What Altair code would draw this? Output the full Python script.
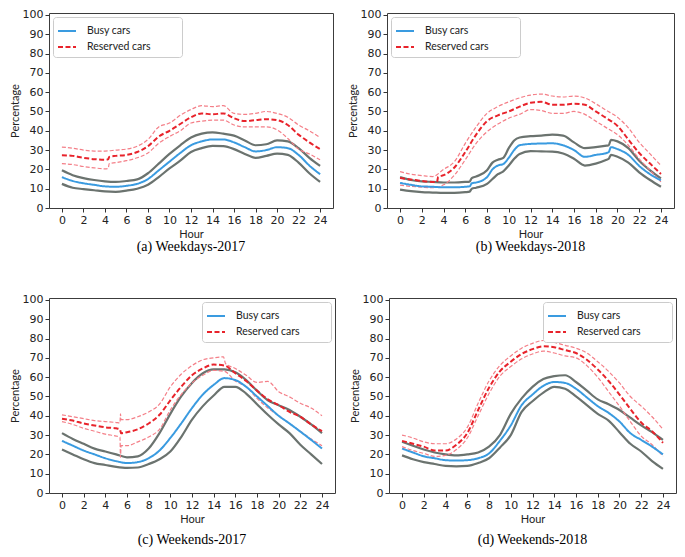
import altair as alt
import pandas as pd

H = list(range(25))

# ---------------- (a) Weekdays-2017 ----------------
A_BUSY_MEAN = [16, 14, 12.8, 12, 11.2, 11, 11.5, 12.5, 15, 19.5, 24, 28.5, 32.5, 34.5, 35.5, 35.5, 34, 31.5, 29.3, 30, 31.5, 31, 27.5, 22, 17.5]
A_BUSY_UP = [19.5, 17, 15.5, 14.5, 13.8, 13.5, 14, 14.8, 18, 23, 28, 32.5, 36.5, 38.5, 39.2, 38.5, 37.5, 35, 32.5, 33, 35, 34.5, 31, 26, 21.8]
A_BUSY_LO = [12.5, 10.5, 9.8, 9.2, 8.6, 8.4, 9, 10, 12, 16, 20.5, 24.5, 29, 31, 32.2, 32, 30.5, 28, 26, 27, 28.2, 27.5, 23.5, 18, 13.5]
A_RES_H = [0, 1, 2, 3, 4, 4.3, 4.4, 5] + list(range(6, 25))
A_RES_MEAN = [27.3, 27, 26, 25.3, 25, 25.2, 26.5, 27, 27.5, 29, 32, 37, 40, 43.5, 47, 49, 48.5, 49, 46.5, 45, 45.5, 46, 45.5, 43, 38, 34, 30.5]
A_RES_UP = [31.5, 31, 30, 29.5, 29.5, 30, 30.5, 32, 35.5, 42, 44, 48, 51, 53, 52.5, 53, 49, 48.5, 49, 50, 49, 47, 43, 40, 36.5]
A_RES_LO = [23, 22.5, 21.5, 20.8, 20.3, 20.5, 23, 23.5, 24.5, 26, 28.5, 33.5, 37, 40, 44, 45, 45.5, 45.5, 43, 42, 42, 42, 40.5, 36, 30.5, 28, 25]

# ---------------- (b) Weekdays-2018 ----------------
B_BUSY_H = [0, 1, 2, 3, 4, 5, 6, 6.4, 6.6, 7, 8, 8.5, 9, 9.5, 10, 10.5, 11, 12, 13, 14, 15, 16, 17, 18, 19, 19.2, 19.4, 20, 21, 22, 23, 24]
B_BUSY_MEAN = [13, 12, 11.2, 11, 10.7, 10.7, 11, 11.2, 12.8, 13.2, 16, 20, 22, 22.8, 26, 30, 32.5, 33.2, 33.4, 33.5, 32.5, 30, 26.5, 27.5, 28.5, 29, 31.5, 30.5, 27.5, 21.8, 17.5, 14.3]
B_BUSY_UP = [16, 14.5, 13.8, 13.5, 13.2, 13.2, 13.5, 13.7, 15.5, 16.3, 19.5, 23.5, 25, 26, 31, 35, 36.5, 37.2, 37.5, 38, 37.5, 34, 31, 31.5, 32.3, 32.5, 35.3, 34.5, 31, 24.5, 19.5, 15.3]
B_BUSY_LO = [9.5, 8.7, 8.2, 8, 7.8, 7.8, 8.2, 8.5, 10, 10.5, 12.5, 15, 17.5, 19, 22, 25.5, 28, 29.5, 29.3, 29.2, 28.2, 25.5, 22, 23, 25, 25.5, 27.5, 26.5, 23.5, 18.5, 14.5, 11]
B_RES_H = [0, 1, 2, 3, 3.4, 3.5, 4, 5] + list(range(6, 25))
B_RES_MEAN = [15.5, 14.8, 14, 13.5, 13.5, 16, 17, 21, 29, 38, 45, 48, 50, 52.5, 54.5, 55, 53.5, 53.5, 54, 53.5, 50, 46.5, 42.5, 35.5, 28.5, 23, 17.6]
B_RES_UP = [18.8, 17.5, 16.8, 16.3, 20, 24, 33.5, 42, 49, 52.5, 55, 57, 58.5, 59, 58, 57.5, 58, 57, 54, 50.5, 47, 41.5, 34, 28, 22]
B_RES_LO = [11.8, 11.2, 10.8, 10.5, 12, 17, 25, 33.5, 39.5, 43.5, 46.5, 48.5, 51, 50.5, 49, 49, 50, 48.5, 45, 41.5, 38, 32.5, 25.5, 19.5, 13.5]

# ---------------- (c) Weekends-2017 ----------------
C_BUSY_MEAN = [27, 24.5, 22, 20, 18, 16.5, 15.5, 16, 18, 22, 28.5, 36, 44, 51, 56, 59.5, 58.5, 55, 50, 45, 40, 36, 31.8, 27.5, 23]
C_BUSY_UP = [31, 28, 25.5, 23, 21.5, 20, 18.5, 19, 23, 31, 41, 50, 57, 62, 64, 64, 62.5, 58.5, 53, 48, 45.5, 43, 39.5, 35.5, 31]
C_BUSY_LO = [22.5, 20, 17.5, 15.5, 14.5, 13.5, 13, 13.2, 15, 17.5, 21.5, 29, 38, 45, 50.5, 55, 55, 51.5, 46, 40.5, 35.5, 31, 25, 20, 15]
C_RES_MEAN_H = [0, 1, 2, 3, 4, 5, 5.35, 5.45] + list(range(6, 25))
C_RES_MEAN = [38.5, 37.5, 36, 35, 34, 33.5, 33, 31, 31.5, 33, 36, 40.5, 48, 55, 61, 64.5, 66.5, 66, 62, 58, 53, 48.5, 45.5, 42, 39.5, 35.5, 32]
C_RES_UP_H = [0, 1, 2, 3, 4, 5, 5.35, 5.4, 5.45] + list(range(6, 15)) + [14.9, 15.1] + list(range(16, 25))
C_RES_UP = [40.5, 39.5, 38.5, 37.5, 37, 36.5, 36.3, 41, 38, 38, 39.5, 42, 46, 55, 61.5, 66, 69, 70, 70.5, 67, 64.5, 61, 57.3, 57.8, 52.5, 49.8, 46.5, 44, 40]
C_RES_LO_H = [0, 1, 2, 3, 4, 5, 5.35, 5.4, 5.45] + list(range(6, 25))
C_RES_LO = [37, 35.5, 33.5, 32, 30.5, 29.5, 29, 18.5, 24.5, 24.5, 26.5, 29, 33, 43, 51, 57, 61, 63.5, 63, 58, 55, 49, 44, 40, 36, 32, 28, 24.5]

# ---------------- (d) Weekends-2018 ----------------
D_BUSY_MEAN = [23, 21, 19, 18, 17, 16.8, 17, 18, 20.5, 27, 35, 45.5, 51, 55.5, 57.5, 57, 54, 49.5, 45, 41.5, 37, 31, 27.5, 24, 20]
D_BUSY_UP = [26.5, 24.5, 22.5, 21, 20, 19.5, 20, 21, 24, 30, 41, 49, 55, 59, 60.5, 61, 57.5, 53, 48.5, 46, 43, 39, 35, 31.5, 27.5]
D_BUSY_LO = [19.5, 17.5, 16, 15, 14, 13.8, 14, 15.5, 18, 23.5, 30, 42, 47.5, 52, 55, 54, 50, 45.5, 41, 37.5, 31.5, 25.5, 21.5, 16.5, 12.5]
D_RES_MEAN = [27, 25.5, 24, 22, 22, 25, 31, 43, 54.5, 63, 68, 72, 74.5, 76, 75.5, 74, 72.5, 69, 64, 58, 51, 43.5, 36.5, 32, 26]
D_RES_UP = [30, 28.5, 26.5, 25.5, 25.5, 28, 34, 46.5, 58, 66, 71, 75, 77.5, 79, 78, 76.5, 75, 72.5, 68, 63, 57, 50, 45, 39.5, 33]
D_RES_LO = [24, 22, 20.5, 19, 19.5, 22.5, 28.5, 40, 51.5, 60.5, 65.5, 69.5, 72, 73.5, 72.5, 71, 70, 66, 60, 52.5, 45, 37, 29.5, 25, 19]

BLUE = "#3a9be0"
GRAY = "#6b736f"
RED = "#e8232b"
LIGHT_RED = "#f47f88"
SERIES = ["Busy cars", "Reserved cars"]
PAD = "\u00a0" * 10 + "\u200b"


def panel_df(lines):
    rows = []
    for name, (hs, vs) in lines.items():
        for h, v in zip(hs, vs):
            rows.append({"hour": h, "value": v, "line": name})
    return pd.DataFrame(rows)


def make_panel(df, caption, orient, cap_offset, w, h):
    x = alt.X("hour:Q", scale=alt.Scale(domain=[-1.2, 25.2], nice=False, zero=False),
              axis=alt.Axis(values=list(range(0, 25, 2)), title="Hour"))
    y = alt.Y("value:Q", scale=alt.Scale(domain=[0, 101], nice=False),
              axis=alt.Axis(values=list(range(0, 101, 10)), title="Percentage"))
    base = alt.Chart(df)
    gray = base.transform_filter(
        alt.FieldOneOfPredicate(field="line", oneOf=["busy_up", "busy_lo"])
    ).mark_line(color=GRAY, strokeWidth=2.2, interpolate="monotone").encode(x=x, y=y, detail="line:N")
    light = base.transform_filter(
        alt.FieldOneOfPredicate(field="line", oneOf=["res_up", "res_lo"])
    ).mark_line(color=LIGHT_RED, strokeWidth=1.2, strokeDash=[4, 2], interpolate="monotone").encode(
        x=x, y=y, detail="line:N")
    leg = alt.Legend(title=None, orient=orient, offset=4, symbolType="stroke", symbolSize=324,
                     symbolStrokeWidth=2, labelFont="Lato", labelFontSize=10.5, labelColor="#222222",
                     labelOffset=10, rowPadding=0, padding=4, strokeColor="#cccccc",
                     fillColor="white", cornerRadius=3,
                     labelExpr="datum.label + '" + PAD + "'")
    means = base.transform_filter(
        alt.FieldOneOfPredicate(field="line", oneOf=["busy_mean", "res_mean"])
    ).transform_calculate(
        series="datum.line == 'busy_mean' ? 'Busy cars' : 'Reserved cars'"
    ).mark_line(strokeWidth=2, interpolate="monotone").encode(
        x=x, y=y,
        color=alt.Color("series:N", scale=alt.Scale(domain=SERIES, range=[BLUE, RED]), legend=leg),
        strokeDash=alt.StrokeDash("series:N", scale=alt.Scale(domain=SERIES, range=[[1, 0], [5, 2.5]]), legend=leg),
    )
    return alt.layer(gray, light, means).properties(
        width=w, height=h,
        title=alt.TitleParams(caption, orient="bottom", anchor="middle", frame="group",
                              font="Liberation Serif", fontSize=14, fontWeight="normal",
                              color="black", offset=cap_offset),
    )


df_a = panel_df({"busy_mean": (H, A_BUSY_MEAN), "busy_up": (H, A_BUSY_UP), "busy_lo": (H, A_BUSY_LO),
                 "res_mean": (A_RES_H, A_RES_MEAN), "res_up": (H, A_RES_UP), "res_lo": (A_RES_H, A_RES_LO)})
df_b = panel_df({"busy_mean": (B_BUSY_H, B_BUSY_MEAN), "busy_up": (B_BUSY_H, B_BUSY_UP), "busy_lo": (B_BUSY_H, B_BUSY_LO),
                 "res_mean": (B_RES_H, B_RES_MEAN), "res_up": (H, B_RES_UP), "res_lo": (H, B_RES_LO)})
df_c = panel_df({"busy_mean": (H, C_BUSY_MEAN), "busy_up": (H, C_BUSY_UP), "busy_lo": (H, C_BUSY_LO),
                 "res_mean": (C_RES_MEAN_H, C_RES_MEAN), "res_up": (C_RES_UP_H, C_RES_UP), "res_lo": (C_RES_LO_H, C_RES_LO)})
df_d = panel_df({"busy_mean": (H, D_BUSY_MEAN), "busy_up": (H, D_BUSY_UP), "busy_lo": (H, D_BUSY_LO),
                 "res_mean": (H, D_RES_MEAN), "res_up": (H, D_RES_UP), "res_lo": (H, D_RES_LO)})

pa = make_panel(df_a, "(a) Weekdays-2017", "top-left", 1, 284, 195)
pb = make_panel(df_b, "(b) Weekdays-2018", "top-left", 1, 287, 195)
pc = make_panel(df_c, "(c) Weekends-2017", "top-right", 9, 286, 195)
pd_ = make_panel(df_d, "(d) Weekends-2018", "top-right", 9, 287, 195)

RES_S = dict(color="independent", strokeDash="independent", x="independent", y="independent")
RES_L = dict(color="independent", strokeDash="independent")

top = alt.hconcat(pa, pb, spacing=12).resolve_scale(**RES_S).resolve_legend(**RES_L)
bottom = alt.hconcat(pc, pd_, spacing=12).resolve_scale(**RES_S).resolve_legend(**RES_L)

chart = alt.vconcat(top, bottom, spacing=38).resolve_scale(**RES_S).resolve_legend(**RES_L).properties(
    padding=0
).configure_view(
    stroke="#3c3c3c", strokeWidth=1
).configure_axis(
    domain=False, grid=False, ticks=True, tickColor="#333333", tickSize=4,
    labelFont="DejaVu Sans", labelFontSize=11, labelColor="#222222", labelPadding=2,
    titleFont="Lato", titleFontSize=11, titleFontWeight="normal", titleColor="#222222",
).configure_axisX(titlePadding=3).configure_axisY(titlePadding=2)

chart.save("out.html", embed_options={"renderer": "svg", "actions": False})
